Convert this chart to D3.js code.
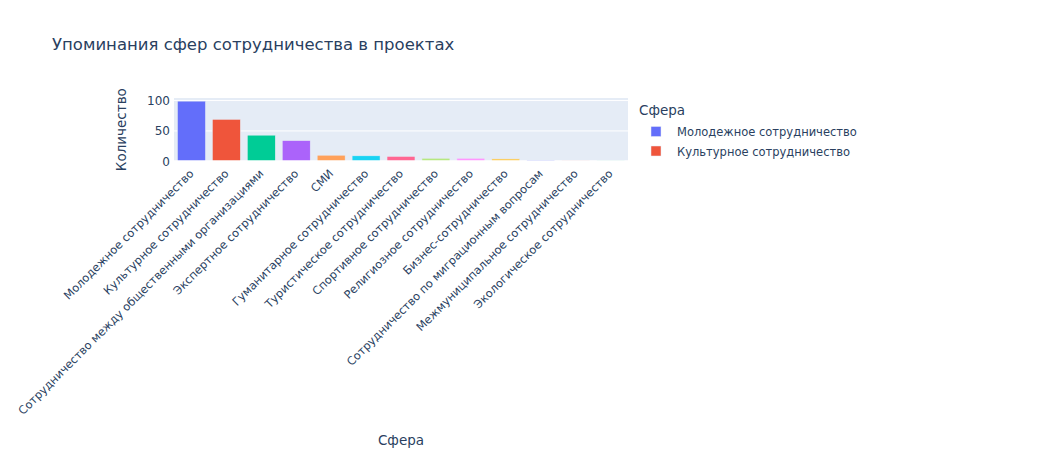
<!DOCTYPE html>
<html>
<head>
<meta charset="utf-8">
<script src="https://cdn.jsdelivr.net/npm/d3@7"></script>
<style>
  body { margin: 0; background: #fff; }
  text { font-family: "DejaVu Sans", verdana, arial, sans-serif; fill: #2a3f5f; }
</style>
</head>
<body>
<svg id="chart" width="1042" height="450"></svg>
<script>
const categories = [
  "Молодежное сотрудничество",
  "Культурное сотрудничество",
  "Сотрудничество между общественными организациями",
  "Экспертное сотрудничество",
  "СМИ",
  "Гуманитарное сотрудничество",
  "Туристическое сотрудничество",
  "Спортивное сотрудничество",
  "Религиозное сотрудничество",
  "Бизнес-сотрудничество",
  "Сотрудничество по миграционным вопросам",
  "Межмуниципальное сотрудничество",
  "Экологическое сотрудничество"
];
const values = [99, 69, 43, 34, 10, 9, 8, 5, 5, 4, 2, 1, 1];
const colors = ["#636efa", "#EF553B", "#00cc96", "#ab63fa", "#FFA15A", "#19d3f3",
                "#FF6692", "#B6E880", "#FF97FF", "#FECB52", "#636efa", "#EF553B", "#00cc96"];
const yTicks = [0, 50, 100];
const legendShown = 2;

const titleText = "Упоминания сфер сотрудничества в проектах";
const xTitle = "Сфера";
const yTitle = "Количество";
const legendTitle = "Сфера";

const FONT = '"DejaVu Sans", verdana, arial, sans-serif';
const svg = d3.select("#chart");
const m = { left: 174, right: 628, top: 98, bottom: 161.3 };

const x = d3.scaleBand().domain(categories).range([m.left, m.right]).paddingInner(0.2).paddingOuter(0.1);
const y = d3.scaleLinear().domain([0, 104.2]).range([m.bottom, m.top]);

// background
svg.append("rect").attr("x", m.left).attr("y", m.top)
  .attr("width", m.right - m.left).attr("height", m.bottom - m.top)
  .attr("fill", "#E5ECF6");

// grid
svg.append("g").selectAll("line").data(yTicks.filter(d => d !== 0)).join("line")
  .attr("x1", m.left).attr("x2", m.right)
  .attr("y1", d => y(d)).attr("y2", d => y(d))
  .attr("stroke", "#fff").attr("stroke-width", 1);

// bars
svg.append("g").selectAll("rect").data(categories).join("rect")
  .attr("x", d => x(d))
  .attr("width", x.bandwidth())
  .attr("y", (d, i) => y(values[i]))
  .attr("height", (d, i) => y(0) - y(values[i]))
  .attr("fill", (d, i) => colors[i])
  .attr("stroke", "#E5ECF6").attr("stroke-width", 0.5);

// zero line
svg.append("line").attr("x1", m.left).attr("x2", m.right)
  .attr("y1", y(0)).attr("y2", y(0)).attr("stroke", "#fff").attr("stroke-width", 2);

// y axis
const yAxis = d3.axisLeft(y).tickValues(yTicks).tickSize(0).tickPadding(3);
const gy = svg.append("g").attr("transform", `translate(${m.left - 1},0)`).call(yAxis);
gy.select(".domain").remove();
gy.selectAll("text").style("font-size", "12px").attr("fill", "#2a3f5f")
  .style("font-family", FONT);

// x axis rotated labels
const xAxis = d3.axisBottom(x).tickSize(0).tickPadding(0);
const gx = svg.append("g").attr("transform", `translate(0,${m.bottom})`).call(xAxis);
gx.select(".domain").remove();
gx.selectAll("text")
  .style("font-size", "11.4px").attr("fill", "#2a3f5f")
  .style("font-family", FONT)
  .attr("text-anchor", "end")
  .attr("dy", null)
  .attr("y", 0)
  .attr("transform", "translate(3,13) rotate(-45)");

// titles
svg.append("text").attr("x", 52).attr("y", 50)
  .style("font-size", "16.5px").text(titleText);

svg.append("text").attr("x", (m.left + m.right) / 2).attr("y", 445)
  .attr("text-anchor", "middle").style("font-size", "13.5px").text(xTitle);

svg.append("text")
  .attr("transform", `translate(126,${(m.top + m.bottom) / 2}) rotate(-90)`)
  .attr("text-anchor", "middle").style("font-size", "13.5px").text(yTitle);

// legend
const lg = svg.append("g");
lg.append("text").attr("x", 639).attr("y", 115).style("font-size", "13.5px").text(legendTitle);
const items = categories.slice(0, legendShown);
const li = lg.selectAll("g.item").data(items).join("g").attr("class", "item")
  .attr("transform", (d, i) => `translate(656,${131.5 + i * 19.5})`);
li.append("rect").attr("x", -5).attr("y", -5).attr("width", 10).attr("height", 10)
  .attr("fill", (d, i) => colors[i]).attr("stroke", "#E5ECF6").attr("stroke-width", 0.5);
li.append("text").attr("x", 21).attr("y", 4.5).style("font-size", "11.5px").text(d => d);
</script>
</body>
</html>
